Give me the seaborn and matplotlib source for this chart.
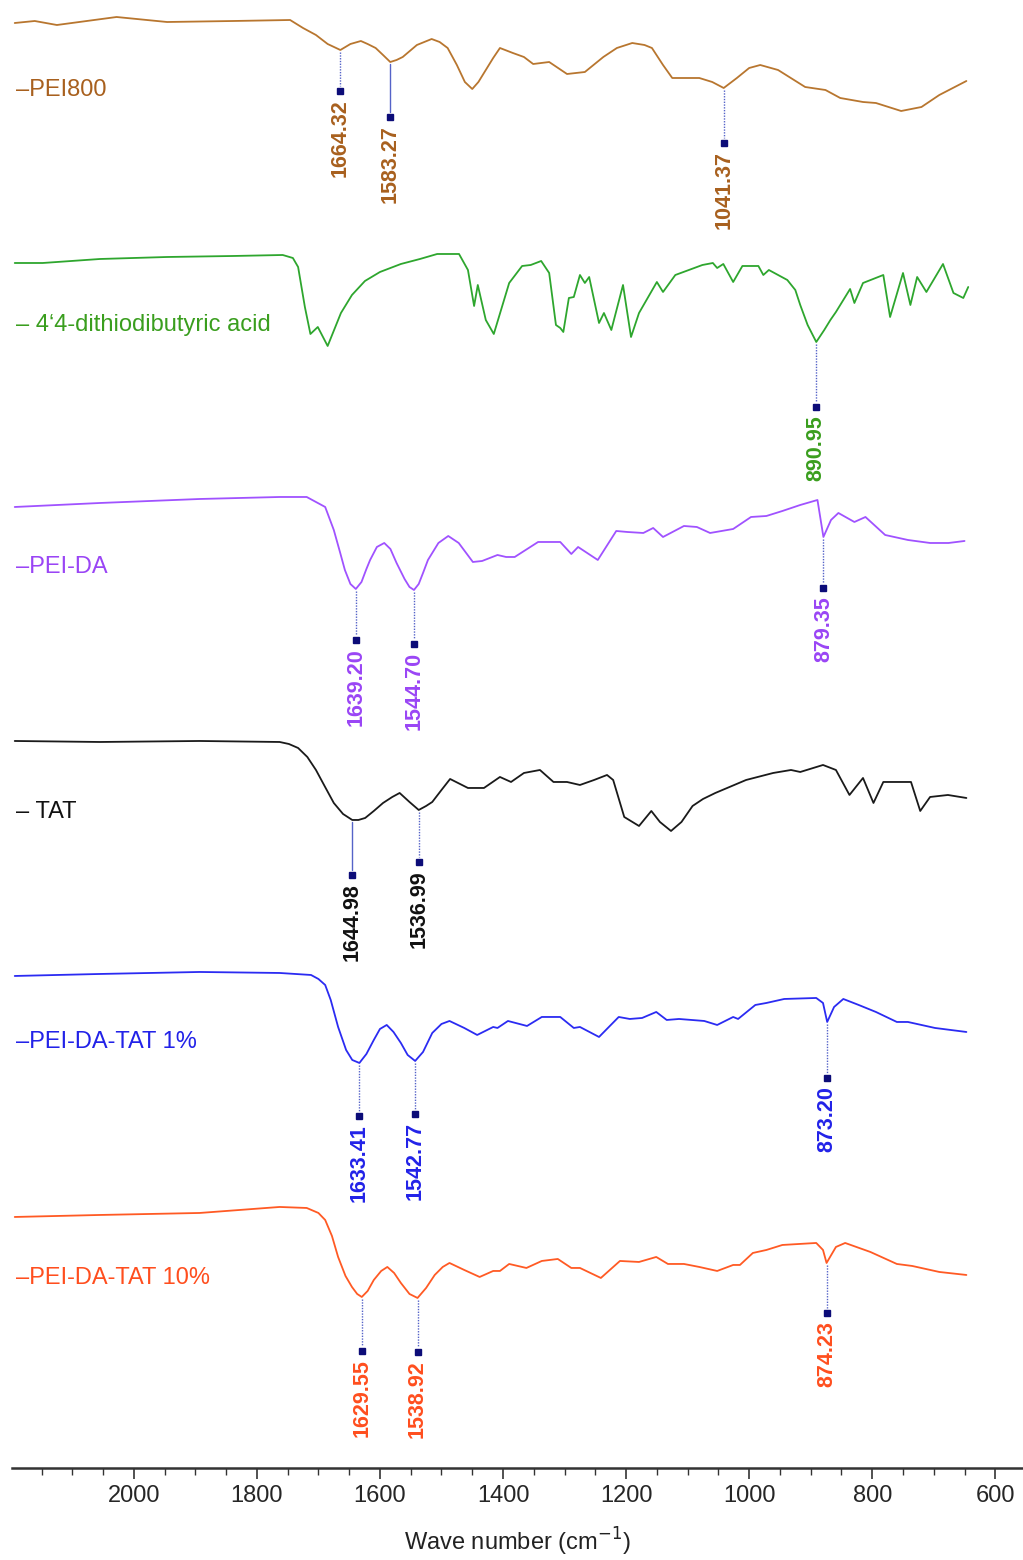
import numpy as np
import pandas as pd
import matplotlib
matplotlib.use("Agg")
import matplotlib.pyplot as plt
import seaborn as sns

# ---------------- data (wavenumber cm-1, relative transmittance a.u.) ----------------
wn_pei800 = [2193.5, 2161, 2125, 2028, 1946, 1839, 1746, 1725, 1704, 1685, 1664.32, 1648, 1631, 1620,
             1607, 1595, 1583.27, 1573, 1563, 1540, 1516, 1503, 1490, 1475, 1462, 1450, 1440, 1428,
             1416, 1405, 1384, 1366, 1351, 1325, 1296, 1267, 1237, 1215, 1190, 1170, 1158, 1140,
             1125, 1081, 1060, 1041.37, 1020, 1000, 982, 953, 909, 876, 852, 815, 794, 753, 720,
             691, 647]
t_pei800 = [-3, -1, -5, 3, -2, -1, 0, -8, -15, -24, -30, -24, -21, -24,
            -28, -35, -42, -40, -37, -25, -19, -22, -28, -45, -62, -69, -62, -50,
            -38, -28, -33, -37, -44, -42, -54, -52, -37, -28, -23, -25, -28, -45,
            -58, -58, -62, -68, -58, -48, -45, -50, -67, -70, -78, -82, -83, -91, -87,
            -75, -61]

wn_dtba = [2193.5, 2148, 2055, 1946, 1839, 1758, 1741.5, 1733, 1722, 1713, 1701, 1685, 1663.4, 1645.5,
           1624.4, 1600, 1566, 1535, 1507, 1471.5, 1457, 1447, 1441, 1428, 1415, 1390, 1369, 1355, 1338,
           1325, 1314, 1307, 1302, 1293, 1285, 1275, 1267, 1260, 1244, 1236, 1224, 1205, 1192, 1179,
           1150, 1140, 1120, 1076, 1059, 1052, 1042, 1026, 1011, 985, 977, 968, 938, 925, 917, 905,
           890.95, 878, 868, 859, 836, 829, 815, 782, 771, 750, 738, 727, 712, 685, 668, 652, 644]
t_dtba = [-8, -8, -4, -2, -1, 0, -3, -12, -52, -79, -72, -91, -58, -40,
          -26, -17, -9, -4, 1, 1, -15, -51, -30, -65, -79, -28, -11, -10, -6,
          -18, -70, -73, -77, -43, -42, -20, -28, -22, -68, -58, -75, -30, -82, -58,
          -27, -37, -20, -10, -8, -13, -9, -27, -11, -11, -20, -15, -25, -35, -50, -70,
          -87, -75, -65, -57, -34, -48, -28, -20, -62, -18, -50, -22, -37, -9, -38, -43, -32]

wn_peida = [2193.5, 2055, 1893, 1763, 1719, 1689, 1675, 1665, 1657, 1648, 1639.20, 1630, 1622, 1616,
            1605, 1593, 1583, 1573, 1560, 1552, 1544.70, 1537, 1530, 1522, 1505, 1489, 1472, 1449,
            1434, 1409, 1395, 1381, 1343, 1307, 1289, 1278, 1246, 1216, 1198, 1172, 1156, 1140,
            1106, 1085, 1063.5, 1026, 997, 972, 946, 917, 889, 879.35, 867, 855, 829, 811, 779,
            742, 706, 676, 650]
t_peida = [-10, -6, -2, 0, 0, -10, -33, -55, -73, -87, -92, -85, -72, -63,
           -50, -46, -52, -66, -82, -90, -93, -87, -76, -63, -46, -39, -46, -65,
           -64, -58, -60, -60, -45, -45, -57, -50, -63, -34, -35, -36, -31, -40,
           -29, -30, -36, -32, -20, -19, -14, -8, -3, -40, -23, -16, -25, -20, -38,
           -43, -46, -46, -44]

wn_tat = [2193.5, 2055, 1893, 1763, 1748, 1733, 1718, 1704, 1690, 1675, 1660, 1644.98, 1635, 1624,
          1610, 1595, 1580, 1568, 1552, 1536.99, 1525, 1515, 1500, 1486, 1457, 1431, 1405, 1387,
          1366, 1340, 1318, 1296, 1275, 1252, 1231, 1221, 1203, 1179, 1159, 1145, 1127, 1110,
          1092, 1075, 1055, 1005, 961, 932, 917, 880, 859, 837, 815, 798, 782, 737, 722, 706,
          677, 647]
t_tat = [1, 0, 1, 0, -2, -6, -15, -28, -44, -61, -72, -78, -78, -76,
         -69, -61, -55, -51, -60, -68, -64, -60, -48, -37, -46, -46, -35, -40,
         -31, -28, -40, -40, -43, -38, -33, -38, -75, -84, -69, -80, -89, -80,
         -64, -57, -51, -38, -31, -28, -30, -23, -28, -53, -36, -61, -40, -40, -69, -55,
         -53, -56]

wn_tat1 = [2193.5, 2055, 1893, 1763, 1712, 1700, 1689, 1680, 1668, 1655, 1645, 1633.41, 1622, 1610,
           1600, 1589, 1578, 1566, 1555, 1542.77, 1530, 1515, 1500, 1487, 1463, 1442, 1416, 1409,
           1392, 1361, 1337, 1307, 1285, 1275, 1244, 1212, 1194, 1174, 1151, 1134, 1114, 1073,
           1052, 1026, 1018, 990, 972, 943, 891, 880, 873.20, 862, 847, 822, 794, 760, 742, 698,
           647]
t_tat1 = [-4, -2, 0, -1, -3, -7, -13, -28, -55, -78, -88, -91, -82, -68,
          -57, -53, -60, -71, -83, -89, -80, -61, -52, -49, -56, -63, -55, -56,
          -49, -54, -45, -45, -56, -55, -65, -45, -47, -46, -40, -48, -47, -49,
          -53, -45, -47, -33, -31, -27, -26, -31, -50, -35, -27, -33, -40, -50, -50, -56,
          -60]

wn_tat10 = [2193.5, 2055, 1893, 1763, 1719, 1700, 1689, 1678, 1668, 1656, 1645.5, 1637, 1629.55,
            1620, 1610, 1598, 1588, 1577, 1566, 1552, 1538.92, 1525, 1511, 1498, 1487, 1463, 1438,
            1416, 1405, 1390, 1362, 1337, 1311, 1289, 1275, 1241, 1210, 1179, 1151, 1132, 1106,
            1081, 1052, 1026, 1015, 994, 972, 946, 891, 880, 874.23, 859, 844, 803, 760, 735,
            691, 647]
t_tat10 = [-9, -7, -5, 1, 0, -5, -12, -28, -49, -68, -79, -86, -89,
           -83, -72, -63, -59, -65, -75, -86, -90, -80, -67, -59, -55, -62, -69,
           -63, -63, -56, -60, -53, -51, -60, -60, -70, -53, -54, -49, -56, -56,
           -59, -63, -57, -57, -45, -42, -37, -35, -42, -55, -39, -35, -44, -56, -58,
           -64, -67]

names = ["PEI800", "4\u20184-dithiodibutyric acid", "PEI-DA", "TAT", "PEI-DA-TAT 1%", "PEI-DA-TAT 10%"]
legend_texts = ["\u2013PEI800", "\u2013 4\u20184-dithiodibutyric acid", "\u2013PEI-DA", "\u2013 TAT",
                "\u2013PEI-DA-TAT 1%", "\u2013PEI-DA-TAT 10%"]
peaks = [[1664.32, 1583.27, 1041.37], [890.95], [1639.20, 1544.70, 879.35],
         [1644.98, 1536.99], [1633.41, 1542.77, 873.20], [1629.55, 1538.92, 874.23]]
tick_values = [2000, 1800, 1600, 1400, 1200, 1000, 800, 600]

# ---------------- styling ----------------
line_colors = ["#B8762F", "#2EA62E", "#A052FF", "#1A1A1A", "#2B2BF2", "#FF5A24"]
text_colors = ["#A8601E", "#3A9E1E", "#9A45F5", "#111111", "#2222E8", "#FF4E1E"]
offsets = [1448, 1213, 971, 726, 496, 260]
drops = [[41, 55, 55], [65], [51, 54, 51], [55, 52], [53, 53, 56], [54, 54, 50]]
solid_stems = {(0, 1), (3, 0)}

sns.set_theme(style="white")
plt.rcParams["font.family"] = ["Liberation Sans", "DejaVu Sans"]

fig = plt.figure(figsize=(10.23, 15.60), dpi=100)
ax = fig.add_axes([0.0117, 0.0590, 0.9883, 0.9410])

series = [(wn_pei800, t_pei800), (wn_dtba, t_dtba), (wn_peida, t_peida),
          (wn_tat, t_tat), (wn_tat1, t_tat1), (wn_tat10, t_tat10)]

for i, (wn, t) in enumerate(series):
    wn = np.asarray(wn, float)
    y = np.asarray(t, float) + offsets[i]
    df = pd.DataFrame({"wn": wn, "y": y})
    sns.lineplot(data=df, x="wn", y="y", ax=ax, color=line_colors[i], linewidth=1.3,
                 sort=False, estimator=None)
    line = ax.get_lines()[-1]
    line.set_solid_joinstyle("round")
    # label at left
    ax.text(2192, offsets[i] - 70, legend_texts[i], color=text_colors[i], fontsize=17,
            ha="left", va="center")
    # peak annotations
    order = np.argsort(wn)
    for j, (pk, dr) in enumerate(zip(peaks[i], drops[i])):
        ypk = np.interp(pk, wn[order], y[order])
        ym = ypk - dr
        ls = "-" if (i, j) in solid_stems else (0, (1, 1))
        ax.plot([pk, pk], [ypk - 2, ym + 5], color="#5563C8", lw=1.0, ls=ls)
        ax.plot([pk], [ym], marker="s", ms=4.5, color="#0C0C78", mec="#0C0C78", ls="none")
        ax.text(pk, ym - 8, f"{pk:.2f}", rotation=90, ha="center", va="top",
                color=text_colors[i], fontsize=15.5, fontweight="bold")

ax.set_xlim(2198, 555)
ax.set_ylim(0, 1468)
ax.set_yticks([])
ax.set_ylabel("")
for s in ["left", "right", "top"]:
    ax.spines[s].set_visible(False)
ax.spines["bottom"].set_color("#333333")
ax.spines["bottom"].set_linewidth(1.8)
ax.set_xticks(tick_values)
ax.set_xticks(np.arange(2150, 550, -50), minor=True)
ax.tick_params(axis="x", which="major", direction="out", length=8, width=1.2, color="#333333",
               labelsize=17, pad=4, bottom=True)
ax.tick_params(axis="x", which="minor", direction="out", length=5, width=1.0, color="#333333",
               bottom=True)
ax.set_xlabel("Wave number (cm$^{-1}$)", fontsize=17, labelpad=14, color="#222222")

fig.savefig("out.png", dpi=100)
